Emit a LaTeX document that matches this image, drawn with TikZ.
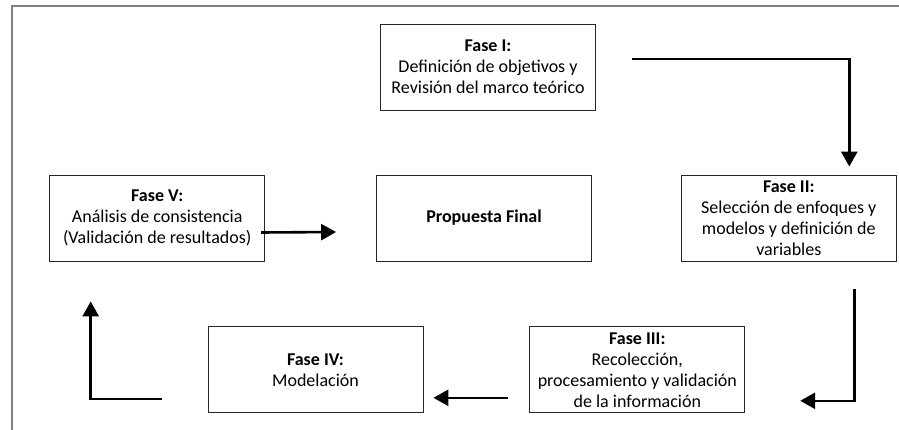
\documentclass[tikz,border=0pt]{standalone}
\usepackage{fontspec}
\setmainfont{Carlito}
\usepackage{tikz}
\usetikzlibrary{arrows.meta, calc, positioning}
\tikzstyle{fase} = [rectangle, draw=black!85, line width=0.8pt, minimum width=215pt, minimum height=86pt, inner sep=1pt, align=center, font=\fontsize{18}{21}\selectfont]
\tikzstyle{arrow} = [line width=2.6pt, -{Triangle[length=15pt,width=16pt]}]
\tikzstyle{frame} = [draw=black!50, line width=1.2pt]

\begin{document}
\begin{tikzpicture}[node distance = 10mm]
	\useasboundingbox (0,0) rectangle (899pt,-430pt);
	\node (Propuesta) [fase] at (484pt,-218pt) {\textbf{Propuesta Final}};
	\node (FaseV) [fase, left = 111pt of Propuesta] {\textbf{Fase V:}\\An\'alisis de consistencia\\(Validaci\'on de resultados)};
	\node (FaseII) [fase, right = 89pt of Propuesta] {\textbf{Fase II:}\\Selecci\'on de enfoques y\\modelos y definici\'on de\\variables};
	\node (FaseI) [fase, above = 64pt of Propuesta, xshift=4pt] {\textbf{Fase I:}\\Definici\'on de objetivos y\\Revisi\'on del marco te\'orico};
	\node (FaseIV) [fase, below = 65pt of Propuesta, xshift=-168.5pt] {\textbf{Fase IV:}\\Modelaci\'on};
	\node (FaseIII) [fase, right = 106pt of FaseIV] {\textbf{Fase III:}\\Recolecci\'on,\\procesamiento y validaci\'on\\de la informaci\'on};
	\draw [frame] (12pt,-430pt) -- (12pt,-6pt) -- (899pt,-6pt);
	\draw [arrow] ([shift={(36pt,8pt)}]FaseI.east) -| ([shift={(60.5pt,8pt)}]FaseII.north);
	\draw [arrow] ([shift={(65.5pt,-28pt)}]FaseII.south) |- ([shift={(55pt,-31pt)}]FaseIII.east);
	\draw [arrow] ([shift={(-21pt,-28pt)}]FaseIII.west) -- ([shift={(10pt,-28pt)}]FaseIV.east);
	\draw [arrow] ([shift={(-46pt,-29pt)}]FaseIV.west) -| ([shift={(-66.5pt,-40pt)}]FaseV.south);
	\draw [arrow] ([shift={(-4pt,-14.5pt)}]FaseV.east) -- ([shift={(-40pt,-14pt)}]Propuesta.west);
\end{tikzpicture}
\end{document}
